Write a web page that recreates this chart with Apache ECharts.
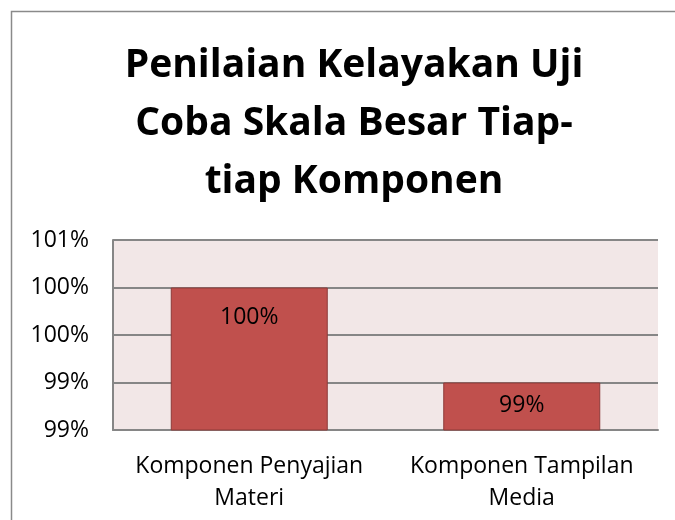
<!DOCTYPE html>
<html>
<head>
<meta charset="utf-8">
<script src="https://cdn.jsdelivr.net/npm/echarts@6/dist/echarts.min.js"></script>
<style>
  html, body { margin: 0; padding: 0; background: #fff; }
  #chart { width: 675px; height: 520px; }
</style>
</head>
<body>
<div id="chart"></div>
<script>
// data
var kategori = ['Komponen Penyajian\nMateri', 'Komponen Tampilan\nMedia'];
var nilai = [100, 99];          // percent
var labelJarak = [18, 11];      // inside-end label gap per bar
var sumbuMin = 98.5, sumbuMax = 100.5, sumbuStep = 0.5;

var chart = echarts.init(document.getElementById('chart'));
var fontUtama = '"Open Sans", "Liberation Sans", sans-serif';

var dataBar = nilai.map(function (v, i) {
  return { value: v, label: { distance: labelJarak[i] } };
});

var option = {
  animation: false,
  backgroundColor: '#fff',
  textStyle: { fontFamily: fontUtama },
  title: {
    text: 'Penilaian Kelayakan Uji\nCoba Skala Besar Tiap-\ntiap Komponen',
    left: 349,
    top: 32,
    textAlign: 'center',
    textStyle: {
      fontFamily: fontUtama,
      fontWeight: 'bold',
      fontSize: 39,
      lineHeight: 58,
      color: '#000'
    }
  },
  graphic: [{
    type: 'rect',
    shape: { x: 11.5, y: 11.5, width: 700, height: 600 },
    style: { fill: null, stroke: '#8a8a8a', lineWidth: 1.5 },
    silent: true
  }],
  grid: {
    left: 113, right: 17, top: 240, bottom: 90,
    show: true,
    backgroundColor: '#f2e7e7',
    borderWidth: 0
  },
  xAxis: {
    type: 'category',
    data: kategori,
    axisTick: { show: false },
    axisLine: { lineStyle: { color: '#868686', width: 2 } },
    axisLabel: {
      interval: 0,
      color: '#000', fontSize: 23, lineHeight: 32, margin: 20,
      fontFamily: fontUtama
    }
  },
  yAxis: {
    type: 'value',
    min: sumbuMin,
    max: sumbuMax,
    interval: sumbuStep,
    axisLine: { show: true, lineStyle: { color: '#868686', width: 2 } },
    axisTick: { show: false },
    splitLine: { lineStyle: { color: '#868686', width: 2 } },
    axisLabel: {
      color: '#000', fontSize: 23, margin: 24,
      fontFamily: fontUtama,
      formatter: function (v) { return Math.round(v) + '%'; }
    }
  },
  series: [{
    type: 'bar',
    data: dataBar,
    barWidth: 157,
    itemStyle: { color: '#c0504d', borderColor: '#8c3a38', borderWidth: 1 },
    label: {
      show: true,
      position: 'insideTop',
      color: '#000',
      fontSize: 23,
      fontFamily: fontUtama,
      formatter: function (p) { return p.value + '%'; }
    }
  }]
};
chart.setOption(option);
</script>
</body>
</html>
